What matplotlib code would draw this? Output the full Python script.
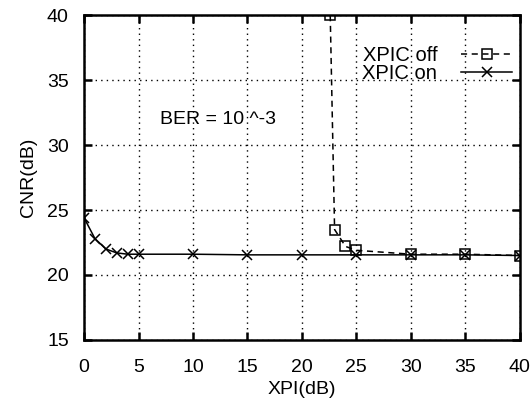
import matplotlib
matplotlib.use("Agg")
import matplotlib.pyplot as plt

plt.rcParams['font.family'] = ['Liberation Sans', 'DejaVu Sans']

# XPIC off
xpi_off = [22.6, 23, 24, 25, 30, 35, 40]
cnr_off = [40.0, 23.5, 22.2, 21.9, 21.6, 21.6, 21.5]

# XPIC on
xpi_on = [0, 1, 2, 3, 4, 5, 10, 15, 20, 25, 30, 35, 40]
cnr_on = [24.4, 22.8, 22.0, 21.7, 21.6, 21.6, 21.6, 21.55, 21.55, 21.55, 21.55, 21.55, 21.5]

xticks = [0, 5, 10, 15, 20, 25, 30, 35, 40]
yticks = [15, 20, 25, 30, 35, 40]

fig = plt.figure(figsize=(5.32, 3.99), dpi=100)
ax = fig.add_axes([0.158, 0.148, 0.819, 0.814])

ax.plot(xpi_off, cnr_off, color='black', linestyle='--', linewidth=1.1,
        marker='s', markersize=7, markerfacecolor='none', markeredgewidth=1.1,
        dashes=(4, 3), label='XPIC off')
ax.plot(xpi_on, cnr_on, color='black', linestyle='-', linewidth=1.1,
        marker='x', markersize=7, markeredgewidth=1.1, label='XPIC on')

ax.set_xlim(0, 40)
ax.set_ylim(15, 40)
ax.set_xticks(xticks)
ax.set_yticks(yticks)
ax.tick_params(direction='in', length=6, width=1.8, labelsize=14,
               top=True, right=True)
ax.tick_params(axis='y', pad=11)
ax.tick_params(axis='x', pad=14)
ax.grid(True, color='black', linestyle=(0, (1, 3)), linewidth=1)
for s in ax.spines.values():
    s.set_linewidth(1.8)

ax.set_xlabel('XPI(dB)', fontsize=14, labelpad=3)
ax.set_ylabel('CNR(dB)', fontsize=14, labelpad=7)

ax.text(7, 32, 'BER = 10 ^-3', fontsize=14, va='center', ha='left')

leg = ax.legend(loc='upper right', bbox_to_anchor=(1.0, 1 - 23 / 325),
                frameon=False, fontsize=14.5, markerfirst=False,
                handlelength=2.5, handletextpad=1.2, labelspacing=-0.05,
                borderaxespad=0)

fig.savefig('out.png', dpi=100)
